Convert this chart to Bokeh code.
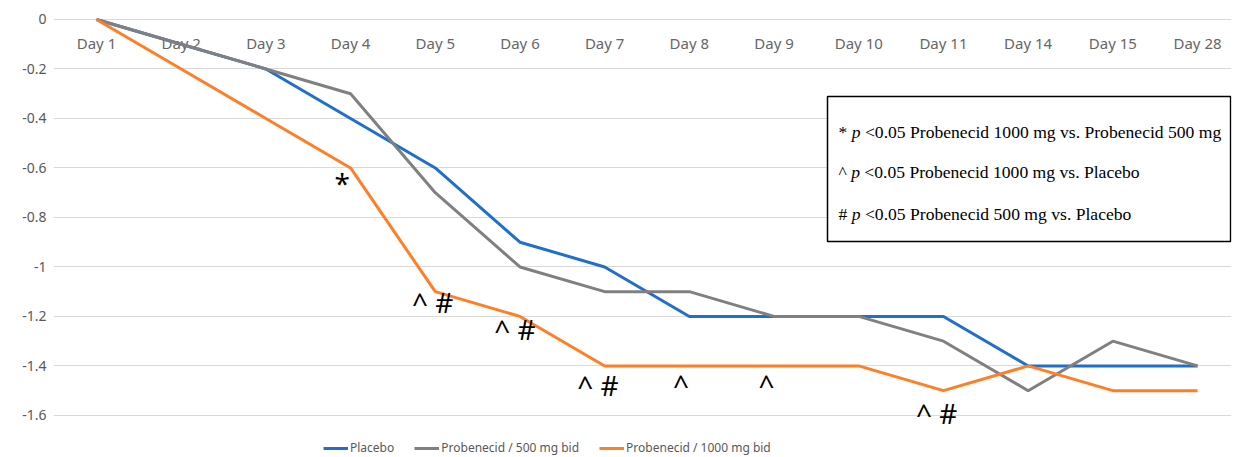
from bokeh.plotting import figure
from bokeh.models import Range1d, FixedTicker, Legend, LegendItem, BoxAnnotation, ColumnDataSource
from bokeh.core.properties import value
from bokeh.embed import file_html
from bokeh.resources import INLINE

days = ["Day 1", "Day 2", "Day 3", "Day 4", "Day 5", "Day 6", "Day 7",
        "Day 8", "Day 9", "Day 10", "Day 11", "Day 14", "Day 15", "Day 28"]
placebo = [0, -0.1, -0.2, -0.4, -0.6, -0.9, -1.0, -1.2, -1.2, -1.2, -1.2, -1.4, -1.4, -1.4]
prob500 = [0, -0.1, -0.2, -0.3, -0.7, -1.0, -1.1, -1.1, -1.2, -1.2, -1.3, -1.5, -1.3, -1.4]
prob1000 = [0, -0.2, -0.4, -0.6, -1.1, -1.2, -1.4, -1.4, -1.4, -1.4, -1.5, -1.4, -1.5, -1.5]

y_ticks = [0, -0.2, -0.4, -0.6, -0.8, -1.0, -1.2, -1.4, -1.6]
y_tick_labels = ["0", "-0.2", "-0.4", "-0.6", "-0.8", "-1", "-1.2", "-1.4", "-1.6"]

# significance marks: (x position in category index units, baseline y, text)
mark_x = [2.90, 3.97, 4.94, 5.92, 6.90, 7.91, 9.92]
mark_y = [-0.662, -1.142, -1.252, -1.477, -1.472, -1.472, -1.592]
mark_text = ["*", "^ #", "^ #", "^ #", "^", "^", "^ #"]

note_prefix = ["*", "^", "#"]
note_rest = ["<0.05 Probenecid 1000 mg vs. Probenecid 500 mg",
             "<0.05 Probenecid 1000 mg vs. Placebo",
             "<0.05 Probenecid 500 mg vs. Placebo"]

idx = list(range(len(days)))

W, H = 1233, 457
p = figure(width=W, height=H, output_backend="svg", toolbar_location=None,
           x_range=Range1d(-0.5077, 13.401), y_range=Range1d(-1.77, 0.02),
           min_border_left=53, min_border_right=2, min_border_top=14, min_border_bottom=0)
p.outline_line_color = None
p.background_fill_color = "white"
p.border_fill_color = "white"
p.xaxis.visible = False
p.xgrid.visible = False

p.yaxis.ticker = FixedTicker(ticks=y_ticks)
p.yaxis.major_label_overrides = {t: l for t, l in zip(y_ticks, y_tick_labels)}
p.yaxis.axis_line_color = None
p.yaxis.major_tick_line_color = None
p.yaxis.minor_tick_line_color = None
p.yaxis.major_tick_out = 0
p.yaxis.major_label_standoff = 7
p.yaxis.major_label_text_font = "Noto Sans"
p.yaxis.major_label_text_font_size = "14px"
p.yaxis.major_label_text_color = "#595959"
p.ygrid.ticker = FixedTicker(ticks=y_ticks)
p.ygrid.grid_line_color = "#d9d9d9"
p.ygrid.grid_line_width = 1

# note box (under the glyphs, over the grid)
box = BoxAnnotation(left=8.631, right=13.39, top=-0.311, bottom=-0.897,
                    fill_color="white", fill_alpha=1, line_color="black",
                    line_alpha=1, line_width=1.5, level="underlay")
p.add_layout(box)

# category labels near the zero line
p.text(x=idx, y=[-0.097] * len(days), text=days, text_align="center",
       text_baseline="alphabetic", text_font=value("Noto Sans"),
       text_font_size="15px", text_color="#666666")

r1 = p.line(idx, placebo, line_color="#1F6FCB", line_width=3)
r2 = p.line(idx, prob500, line_color="#808080", line_width=3)
r3 = p.line(idx, prob1000, line_color="#FF7F27", line_width=3)

p.text(x=mark_x, y=mark_y, text=mark_text, text_align="center",
       text_baseline="alphabetic", text_font=value("Noto Sans"),
       text_font_size="28px", text_color="black")

note_x = [8.761] * 3
note_y = [-0.453, -0.618, -0.788]
fs = 17.6
pre_w = [0.5, 0.469, 0.5]
src = ColumnDataSource(dict(x=note_x, y=note_y, pre=note_prefix, rest=note_rest,
                            off_p=[(w + 0.25) * fs for w in pre_w],
                            off_r=[(w + 0.25 + 0.5 + 0.25) * fs for w in pre_w]))
common = dict(text_baseline="alphabetic", text_font=value("Liberation Serif"),
              text_font_size=f"{fs}px", text_color="black", source=src)
p.text(x="x", y="y", text="pre", **common)
p.text(x="x", y="y", text=value("p"), x_offset="off_p", text_font_style="italic", **common)
p.text(x="x", y="y", text="rest", x_offset="off_r", **common)

legend = Legend(items=[LegendItem(label="Placebo", renderers=[r1]),
                       LegendItem(label="Probenecid / 500 mg bid", renderers=[r2]),
                       LegendItem(label="Probenecid / 1000 mg bid", renderers=[r3])],
                orientation="horizontal", location=(270, 1),
                label_text_font="Noto Sans", label_text_font_size="12px",
                label_text_color="#595959", glyph_width=25, glyph_height=12,
                label_height=12, label_standoff=2, spacing=20, padding=0, margin=0,
                border_line_color=None, background_fill_alpha=0)
p.add_layout(legend, "center")

open("out.html", "w").write(file_html(p, INLINE))
